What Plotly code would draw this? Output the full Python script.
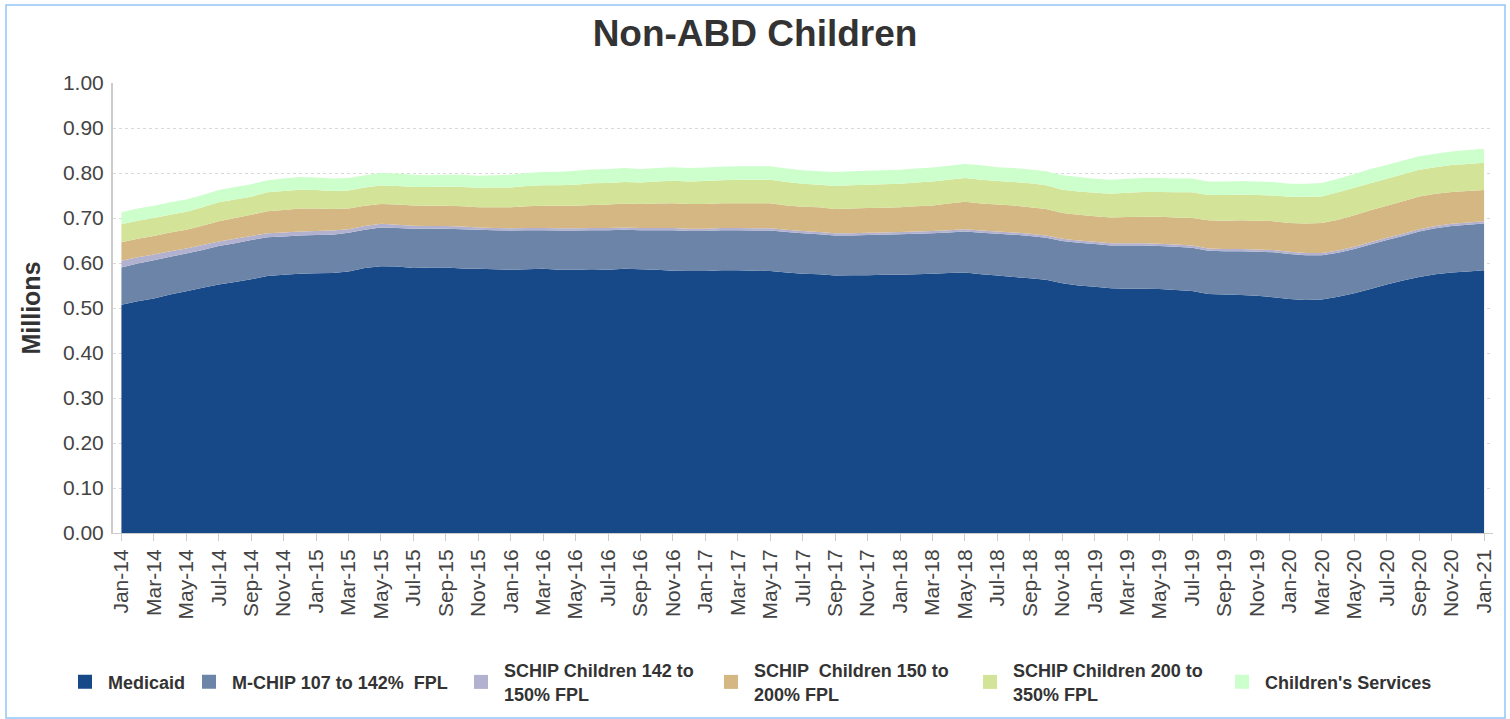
import plotly.graph_objects as go

# Month index 0 = Jan-14 ... 84 = Jan-21
months = list(range(85))

tick_labels = [
    "Jan-14", "Mar-14", "May-14", "Jul-14", "Sep-14", "Nov-14",
    "Jan-15", "Mar-15", "May-15", "Jul-15", "Sep-15", "Nov-15",
    "Jan-16", "Mar-16", "May-16", "Jul-16", "Sep-16", "Nov-16",
    "Jan-17", "Mar-17", "May-17", "Jul-17", "Sep-17", "Nov-17",
    "Jan-18", "Mar-18", "May-18", "Jul-18", "Sep-18", "Nov-18",
    "Jan-19", "Mar-19", "May-19", "Jul-19", "Sep-19", "Nov-19",
    "Jan-20", "Mar-20", "May-20", "Jul-20", "Sep-20", "Nov-20",
    "Jan-21",
]
tick_positions = list(range(0, 85, 2))

medicaid = [
    0.507, 0.515, 0.521, 0.530, 0.537, 0.545, 0.552, 0.558, 0.564, 0.571,
    0.574, 0.576, 0.577, 0.578, 0.581, 0.589, 0.593, 0.592, 0.589, 0.590,
    0.590, 0.588, 0.587, 0.586, 0.585, 0.586, 0.587, 0.585, 0.585, 0.586,
    0.585, 0.587, 0.586, 0.585, 0.583, 0.582, 0.582, 0.584, 0.584, 0.583,
    0.582, 0.579, 0.576, 0.575, 0.572, 0.573, 0.573, 0.574, 0.574, 0.575,
    0.576, 0.578, 0.579, 0.575, 0.572, 0.569, 0.566, 0.563, 0.555, 0.550,
    0.547, 0.544, 0.543, 0.543, 0.542, 0.540, 0.538, 0.531, 0.530, 0.529,
    0.527, 0.524, 0.520, 0.518, 0.519, 0.525, 0.533, 0.542, 0.552, 0.561,
    0.569, 0.575, 0.579, 0.581, 0.584,
]

mchip = [
    0.083, 0.084, 0.085, 0.084, 0.084, 0.084, 0.086, 0.086, 0.087, 0.086,
    0.085, 0.085, 0.085, 0.085, 0.086, 0.085, 0.086, 0.086, 0.087, 0.086,
    0.086, 0.087, 0.087, 0.087, 0.087, 0.087, 0.086, 0.087, 0.087, 0.087,
    0.088, 0.087, 0.087, 0.088, 0.090, 0.089, 0.089, 0.089, 0.089, 0.089,
    0.090, 0.090, 0.090, 0.089, 0.089, 0.088, 0.089, 0.089, 0.090, 0.090,
    0.090, 0.090, 0.091, 0.092, 0.093, 0.094, 0.094, 0.093, 0.094, 0.095,
    0.095, 0.095, 0.096, 0.096, 0.096, 0.096, 0.096, 0.096, 0.096, 0.097,
    0.098, 0.100, 0.100, 0.099, 0.098, 0.098, 0.098, 0.099, 0.099, 0.099,
    0.101, 0.102, 0.103, 0.104, 0.104,
]

schip142 = [
    0.015, 0.014, 0.013, 0.012, 0.011, 0.011, 0.010, 0.010, 0.009, 0.009,
    0.009, 0.009, 0.009, 0.009, 0.008, 0.008, 0.008, 0.007, 0.007, 0.006,
    0.006, 0.006, 0.005, 0.005, 0.005, 0.005, 0.005, 0.005, 0.005, 0.005,
    0.005, 0.005, 0.005, 0.005, 0.005, 0.005, 0.005, 0.005, 0.005, 0.005,
    0.005, 0.005, 0.005, 0.005, 0.005, 0.005, 0.005, 0.005, 0.005, 0.005,
    0.005, 0.005, 0.005, 0.005, 0.005, 0.005, 0.005, 0.005, 0.005, 0.005,
    0.005, 0.005, 0.005, 0.005, 0.005, 0.005, 0.005, 0.005, 0.005, 0.005,
    0.005, 0.005, 0.005, 0.005, 0.005, 0.005, 0.005, 0.005, 0.005, 0.005,
    0.005, 0.005, 0.005, 0.005, 0.005,
]

schip150 = [
    0.041, 0.041, 0.041, 0.042, 0.042, 0.043, 0.045, 0.046, 0.047, 0.049,
    0.050, 0.051, 0.050, 0.048, 0.046, 0.045, 0.044, 0.045, 0.045, 0.045,
    0.045, 0.045, 0.045, 0.046, 0.047, 0.048, 0.049, 0.050, 0.050, 0.051,
    0.052, 0.053, 0.053, 0.054, 0.055, 0.055, 0.055, 0.055, 0.055, 0.056,
    0.056, 0.054, 0.054, 0.055, 0.054, 0.055, 0.055, 0.055, 0.055, 0.056,
    0.057, 0.059, 0.061, 0.060, 0.060, 0.060, 0.059, 0.059, 0.057, 0.057,
    0.057, 0.057, 0.058, 0.059, 0.060, 0.060, 0.061, 0.063, 0.063, 0.064,
    0.064, 0.064, 0.064, 0.066, 0.067, 0.068, 0.070, 0.071, 0.071, 0.072,
    0.073, 0.072, 0.071, 0.070, 0.069,
]

schip200 = [
    0.040, 0.040, 0.040, 0.039, 0.040, 0.041, 0.042, 0.041, 0.040, 0.042,
    0.042, 0.042, 0.041, 0.040, 0.040, 0.041, 0.041, 0.041, 0.041, 0.042,
    0.043, 0.043, 0.043, 0.044, 0.044, 0.045, 0.046, 0.046, 0.047, 0.048,
    0.048, 0.048, 0.048, 0.049, 0.050, 0.050, 0.051, 0.051, 0.052, 0.052,
    0.052, 0.052, 0.051, 0.050, 0.051, 0.052, 0.052, 0.052, 0.052, 0.053,
    0.053, 0.053, 0.053, 0.053, 0.052, 0.052, 0.053, 0.053, 0.052, 0.052,
    0.052, 0.053, 0.054, 0.055, 0.055, 0.056, 0.057, 0.056, 0.057, 0.057,
    0.057, 0.057, 0.058, 0.059, 0.059, 0.061, 0.061, 0.060, 0.060, 0.060,
    0.059, 0.059, 0.060, 0.060, 0.061,
]

childrens_services = [
    0.027, 0.027, 0.027, 0.028, 0.027, 0.027, 0.027, 0.028, 0.028, 0.027,
    0.028, 0.028, 0.028, 0.028, 0.028, 0.027, 0.028, 0.028, 0.027, 0.026,
    0.026, 0.027, 0.027, 0.027, 0.028, 0.029, 0.029, 0.030, 0.031, 0.031,
    0.031, 0.031, 0.030, 0.030, 0.030, 0.030, 0.030, 0.030, 0.030, 0.030,
    0.030, 0.030, 0.030, 0.030, 0.031, 0.031, 0.031, 0.031, 0.031, 0.031,
    0.031, 0.031, 0.031, 0.032, 0.031, 0.031, 0.031, 0.031, 0.032, 0.032,
    0.031, 0.031, 0.031, 0.031, 0.031, 0.031, 0.031, 0.030, 0.030, 0.030,
    0.030, 0.030, 0.029, 0.029, 0.030, 0.030, 0.031, 0.032, 0.031, 0.031,
    0.030, 0.030, 0.030, 0.031, 0.031,
]

series_names = [
    "Medicaid",
    "M-CHIP 107 to 142%  FPL",
    "SCHIP Children 142 to<br>150% FPL",
    "SCHIP  Children 150 to<br>200% FPL",
    "SCHIP Children 200 to<br>350% FPL",
    "Children's Services",
]
series_values = [medicaid, mchip, schip142, schip150, schip200, childrens_services]
series_colors = ["#174887", "#6c84a8", "#b2b2d0", "#d4b783", "#d3e397", "#ccffcc"]

# pixel x of each legend swatch centre
legend_swatch_px = [85, 209, 481, 731, 990, 1242]

FONT = "Liberation Sans, Arial, sans-serif"
W, H = 1510, 719

fig = go.Figure()

for name, vals, col in zip(series_names, series_values, series_colors):
    fig.add_trace(go.Scatter(
        x=months, y=vals, name=name, stackgroup="one", mode="none",
        fillcolor=col, line=dict(width=0), showlegend=False,
    ))

# legend entries with square swatches, one legend box per entry
legend_layouts = {}
for i, (name, col, px) in enumerate(zip(series_names, series_colors, legend_swatch_px)):
    key = "legend" if i == 0 else f"legend{i + 1}"
    fig.add_trace(go.Scatter(
        x=[None], y=[None], name=name, mode="markers",
        marker=dict(symbol="square", size=14, color=col),
        showlegend=True, legend=key,
    ))
    legend_layouts[key] = dict(
        orientation="h", xref="container", x=(px - 23) / W, xanchor="left",
        yref="container", y=(H - 682) / H, yanchor="middle",
        font=dict(size=18, color="#333", family=FONT, weight="bold"),
        itemwidth=36, valign="middle", bgcolor="rgba(0,0,0,0)", borderwidth=0,
    )

fig.update_layout(
    width=W, height=H,
    margin=dict(l=113, r=17, t=83, b=186),
    paper_bgcolor="white", plot_bgcolor="white",
    font=dict(family=FONT, color="#444"),
    title=dict(
        text="<b>Non-ABD Children</b>", xref="container", x=0.5, xanchor="center",
        yref="container", y=1 - 33 / H, yanchor="middle",
        font=dict(size=37, color="#333", family=FONT),
    ),
    showlegend=True,
    **legend_layouts,
)

fig.update_xaxes(
    range=[-0.52, 84.55],
    tickmode="array", tickvals=tick_positions, ticktext=tick_labels,
    tickangle=-90, ticks="outside", ticklen=7, tickcolor="#cccccc", tickwidth=1,
    showline=True, linecolor="#cccccc", linewidth=1,
    showgrid=False, zeroline=False,
    tickfont=dict(size=21, color="#444", family=FONT),
)

fig.update_yaxes(
    range=[0, 1], dtick=0.1, tick0=0, tickformat=".2f",
    showgrid=True, gridcolor="#d9d9d9", griddash="dot", gridwidth=1,
    showline=True, linecolor="#cccccc", linewidth=2,
    zeroline=False, ticks="", ticklabelstandoff=3,
    tickfont=dict(size=21, color="#444", family=FONT),
    title=dict(text="<b>Millions</b>", font=dict(size=25, color="#333", family=FONT), standoff=15),
)

# light blue frame around the whole chart
fig.add_shape(
    type="rect", xref="paper", yref="paper",
    x0=(6 - 113) / 1380, x1=(1505 - 113) / 1380,
    y0=(533 - 718) / 450, y1=(533 - 5) / 450,
    line=dict(color="#92c6f6", width=1.5), fillcolor="rgba(0,0,0,0)", layer="below",
)

fig.write_html(
    "out.html",
    config={"displayModeBar": False},
    post_script="document.body.style.margin='0';document.body.style.overflow='hidden';",
)
